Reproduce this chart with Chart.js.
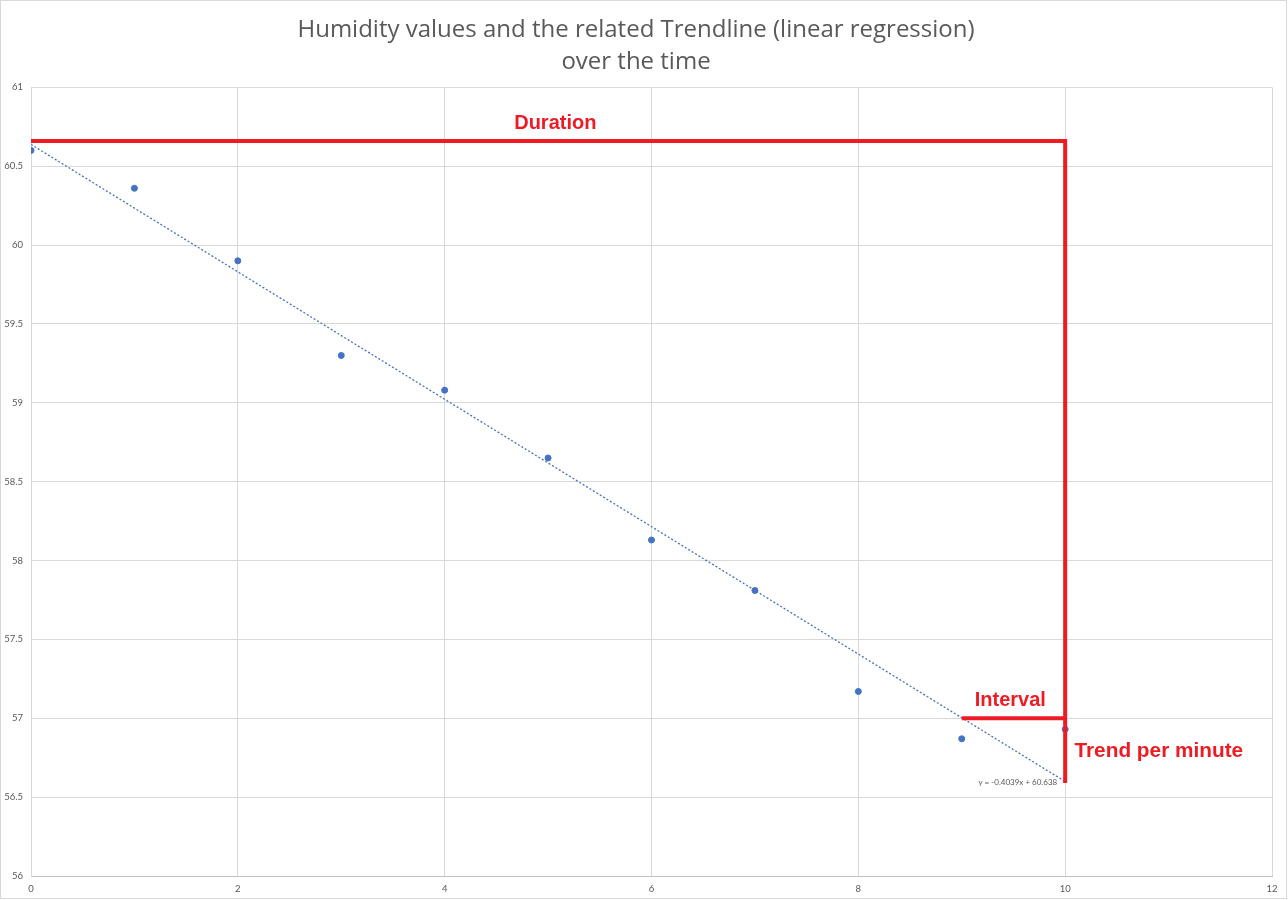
<!DOCTYPE html>
<html>
<head>
<meta charset="utf-8">
<script src="https://cdn.jsdelivr.net/npm/chart.js@4.4.1/dist/chart.umd.min.js"></script>
<style>
html,body{margin:0;padding:0;background:#fff;}
#wrap{width:1288px;height:900px;}
</style>
</head>
<body>
<div id="wrap"><canvas id="c" width="1288" height="900"></canvas></div>
<script>
// ---- data ----
const minutes = [0,1,2,3,4,5,6,7,8,9,10];
const humidity = [60.60,60.36,59.90,59.30,59.08,58.65,58.13,57.81,57.17,56.87,56.93];
const trendSlope = -0.4039;
const trendIntercept = 60.638;
const trendX = [0,10];
const durationX = [0,10,10];
const durationY = [60.66,60.66,56.59];
const intervalX = [9,10];
const intervalY = [57.0,57.0];
const yTicks = [56,56.5,57,57.5,58,58.5,59,59.5,60,60.5,61];
const xTicks = [0,2,4,6,8,10,12];
const titleLines = ['Humidity values and the related Trendline (linear regression)','over the time'];
const equationText = 'y = -0.4039x + 60.638';

const pts = (xs, ys) => xs.map((x,i)=>({x:x, y:ys[i]}));
const trendPts = trendX.map(x=>({x:x, y:trendIntercept + trendSlope*x}));

const RED = '#ed1c24';
const GRAY = '#595959';

const framePlugin = {
  id:'frame',
  beforeDraw(chart){
    const ctx = chart.ctx;
    ctx.save();
    ctx.fillStyle='#fff';
    ctx.fillRect(0,0,chart.width,chart.height);
    ctx.strokeStyle='#d9d9d9';
    ctx.lineWidth=1;
    ctx.strokeRect(0.5,0.5,1286,898);
    ctx.restore();
  }
};

const labelPlugin = {
  id:'labels',
  afterDatasetsDraw(chart){
    const ctx = chart.ctx, xs = chart.scales.x, ys = chart.scales.y;
    ctx.save();
    ctx.fillStyle = RED;
    ctx.font = 'bold 20px "Liberation Sans", Arial, sans-serif';
    ctx.textBaseline = 'middle';
    ctx.textAlign = 'center';
    ctx.fillText('Duration', xs.getPixelForValue(5.07), ys.getPixelForValue(60.77));
    ctx.fillText('Interval', xs.getPixelForValue(9.47), ys.getPixelForValue(57.115));
    ctx.textAlign = 'left';
    ctx.font = 'bold 20.8px "Liberation Sans", Arial, sans-serif';
    ctx.fillText('Trend per minute', xs.getPixelForValue(10.09), ys.getPixelForValue(56.79));
    // equation
    const ex = xs.getPixelForValue(trendX[1]) - 8;
    const ey = ys.getPixelForValue(trendIntercept + trendSlope*trendX[1]) + 1;
    ctx.fillStyle = GRAY;
    ctx.font = '8px Lato, "Open Sans", sans-serif';
    ctx.textAlign = 'right';
    ctx.fillText(equationText, ex, ey);
    ctx.restore();
  }
};

new Chart(document.getElementById('c'), {
  type:'scatter',
  data:{
    datasets:[
      {label:'Duration', type:'line', data:pts(durationX,durationY), borderColor:RED, borderWidth:4, pointRadius:0, fill:false, tension:0, order:0, borderCapStyle:'butt', borderJoinStyle:'miter'},
      {label:'Interval', type:'line', data:pts(intervalX,intervalY), borderColor:RED, borderWidth:4, pointRadius:0, fill:false, tension:0, order:0},
      {label:'Trend', type:'line', data:trendPts, borderColor:'#4472c4', borderWidth:1.3, borderDash:[2,2], pointRadius:0, fill:false, tension:0, order:1},
      {label:'Humidity', data:pts(minutes,humidity), backgroundColor:'#4472c4', borderColor:'#4472c4', pointRadius:3, pointHoverRadius:3, order:2}
    ]
  },
  options:{
    responsive:false,
    animation:false,
    devicePixelRatio:1,
    layout:{padding:{left:0,right:16,top:0,bottom:0}},
    plugins:{
      legend:{display:false},
      tooltip:{enabled:false},
      title:{display:true, text:titleLines, color:GRAY,
        font:{family:'"Open Sans", Lato, sans-serif', size:24, weight:'normal', lineHeight:1.34},
        padding:{top:14,bottom:9}}
    },
    scales:{
      x:{type:'linear', min:0, max:12,
        afterBuildTicks(s){ s.ticks = xTicks.map(v=>({value:v})); },
        afterFit(s){ s.height = 24; },
        grid:{color:'#d9d9d9', drawTicks:false},
        border:{color:'#bfbfbf'},
        ticks:{color:GRAY, font:{family:'Lato, sans-serif', size:9.5}, padding:7, maxRotation:0,
          callback:(v)=>String(v)}
      },
      y:{type:'linear', min:56, max:61,
        afterBuildTicks(s){ s.ticks = yTicks.map(v=>({value:v})); },
        afterFit(s){ s.width = 31; },
        grid:{color:'#d9d9d9', drawTicks:false},
        border:{color:'#d9d9d9'},
        ticks:{color:GRAY, font:{family:'Lato, sans-serif', size:9.5}, padding:8,
          callback:(v)=>String(v)}
      }
    }
  },
  plugins:[framePlugin, labelPlugin]
});
</script>
</body>
</html>
